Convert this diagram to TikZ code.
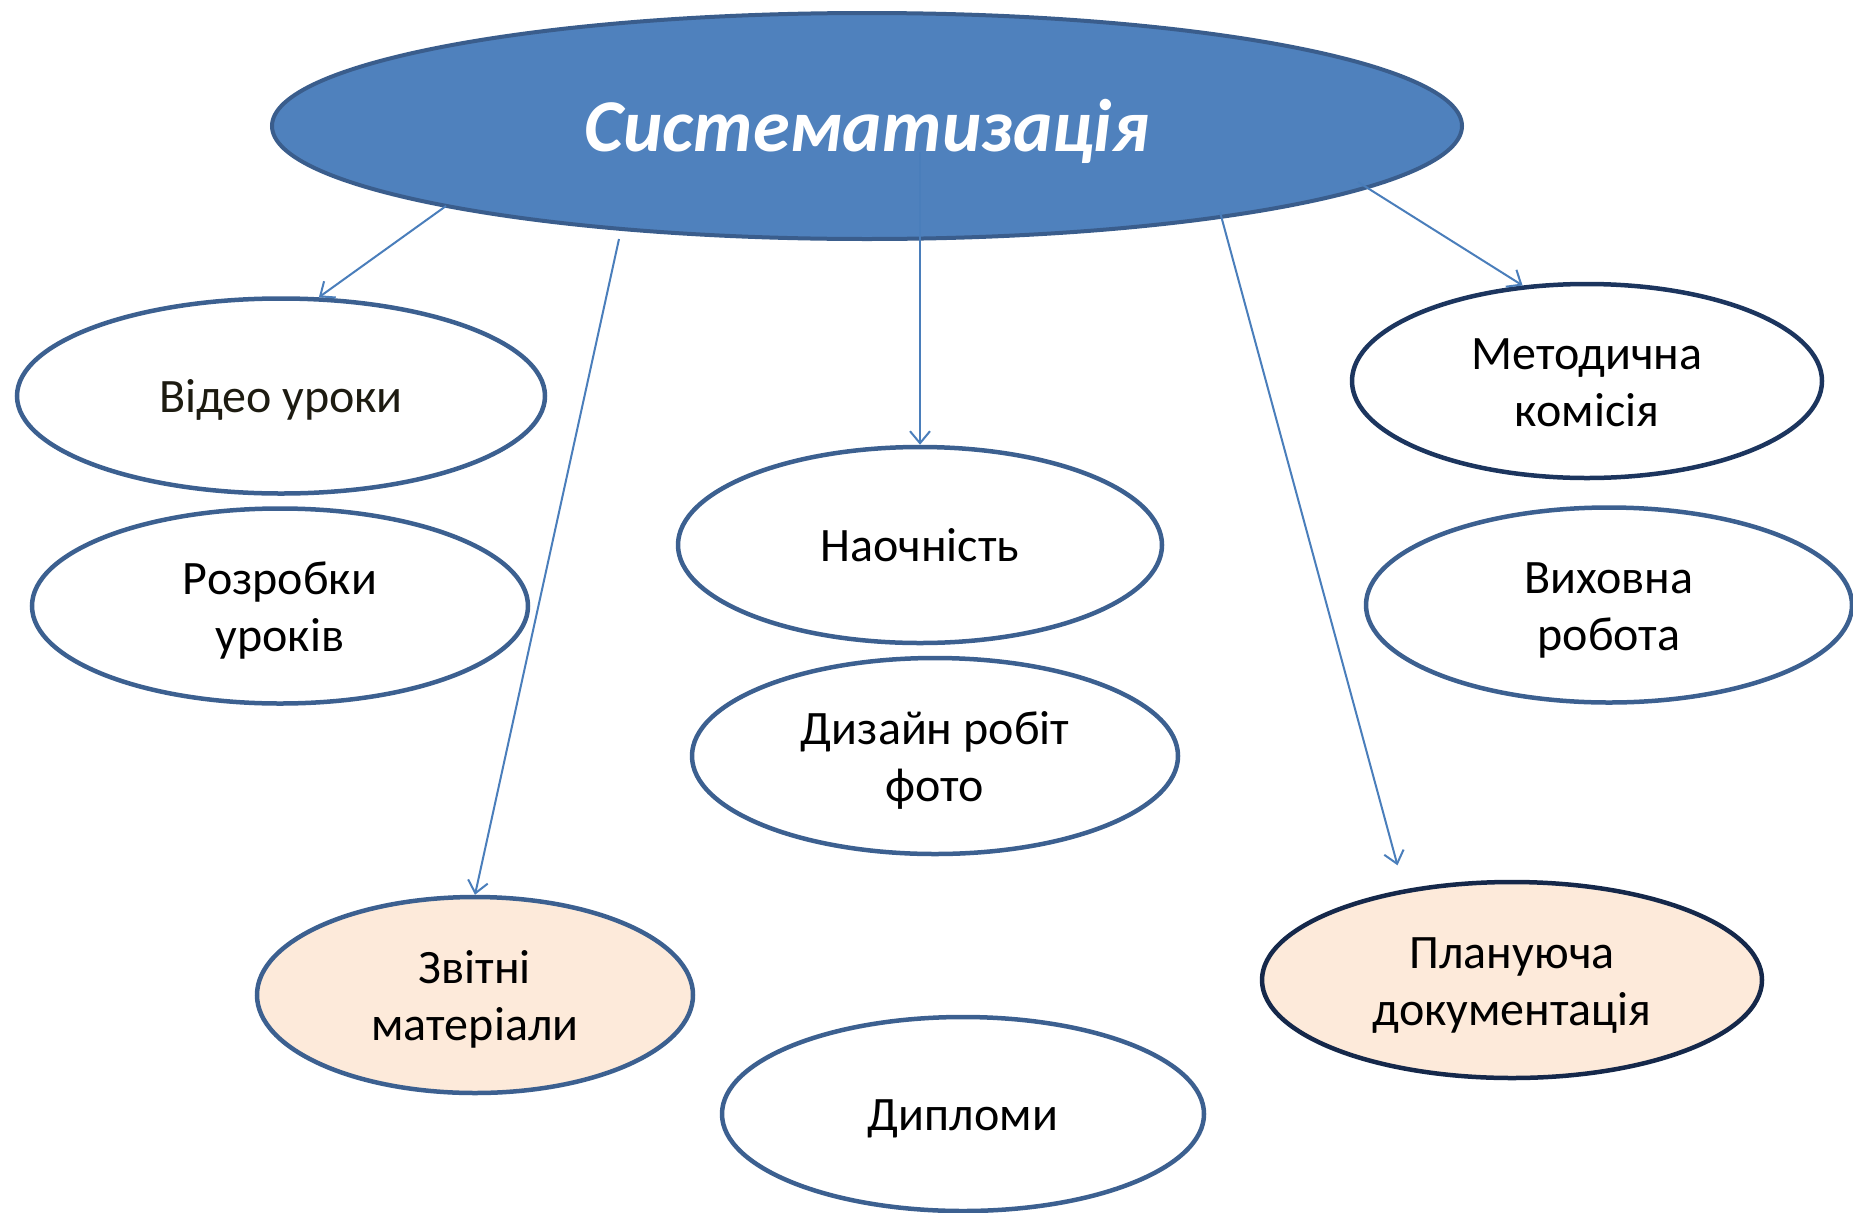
\documentclass[tikz,border=0pt]{standalone}
\usepackage{fontspec}
\setmainfont{Carlito}
\usetikzlibrary{shapes.geometric,arrows.meta}
\definecolor{topfill}{HTML}{4F81BD}
\definecolor{topline}{HTML}{3A5D8C}
\definecolor{eline}{HTML}{3C6090}
\definecolor{metline}{HTML}{1C355E}
\definecolor{planline}{HTML}{15284A}
\definecolor{peach}{HTML}{FDEADA}
\definecolor{arr}{HTML}{4A7EBB}
\definecolor{vtext}{HTML}{1D1B11}
\newcommand\lbl[1]{\raisebox{-11.6pt}[0pt][0pt]{\begin{tabular}{@{}c@{}}#1\end{tabular}}}
\begin{document}
\begin{tikzpicture}[x=1pt,y=-1pt,
  bubble/.style={ellipse, draw=eline, line width=4.5pt, fill=white, inner sep=0pt,
    font=\fontsize{48}{57}\selectfont, text=black},
  arrowline/.style={draw=arr, line width=2pt, -{Straight Barb[length=12pt,width=20pt,line width=2pt]}}]
\useasboundingbox (0,0) rectangle (1853,1213);

% central node
\node[ellipse, draw=topline, line width=4pt, fill=topfill, inner sep=0pt,
      minimum width=1190pt, minimum height=226pt, text=white,
      font=\fontsize{74.5}{80}\selectfont\bfseries\itshape] (top) at (867,126)
      {\raisebox{-25.3pt}[0pt][0pt]{Систематизація}};

% child nodes
\node[bubble, minimum width=528pt, minimum height=195pt, text=vtext] (vid) at (281,396) {\lbl{Відео уроки}};
\node[bubble, minimum width=496pt, minimum height=195pt] (rozr) at (280,606) {\lbl{Розробки\\уроків}};
\node[bubble, minimum width=484pt, minimum height=196pt] (nao) at (920,545) {\lbl{Наочність}};
\node[bubble, minimum width=486pt, minimum height=196pt] (diz) at (935,756) {\lbl{Дизайн робіт\\фото}};
\node[bubble, draw=metline, minimum width=470pt, minimum height=194pt] (met) at (1587,381) {\lbl{Методична\\комісія}};
\node[bubble, minimum width=486pt, minimum height=195pt] (vyh) at (1609,605) {\lbl{Виховна\\робота}};
\node[bubble, fill=peach, minimum width=436pt, minimum height=196pt] (zvit) at (475,995) {\lbl{Звітні\\матеріали}};
\node[bubble, minimum width=482pt, minimum height=194pt] (dyp) at (963,1114) {\lbl{Дипломи}};
\node[bubble, draw=planline, fill=peach, minimum width=500pt, minimum height=196pt] (plan) at (1512,980) {\lbl{Плануюча\\документація}};

% start points of the connectors
\coordinate (s1) at (446,206);
\coordinate (s2) at (619,239);
\coordinate (s3) at (920,152);
\coordinate (s4) at (1220,212);
\coordinate (s5) at (1358,182);

% connectors
\draw[arrowline] (s1) -- (vid.69);
\draw[arrowline] (s2) -- (zvit.north);
\draw[arrowline] (s3) -- (nao.north);
\draw[arrowline, shorten >=25pt] (s4) -- (plan.140);
\draw[arrowline] (s5) -- (met.124);
\end{tikzpicture}
\end{document}
